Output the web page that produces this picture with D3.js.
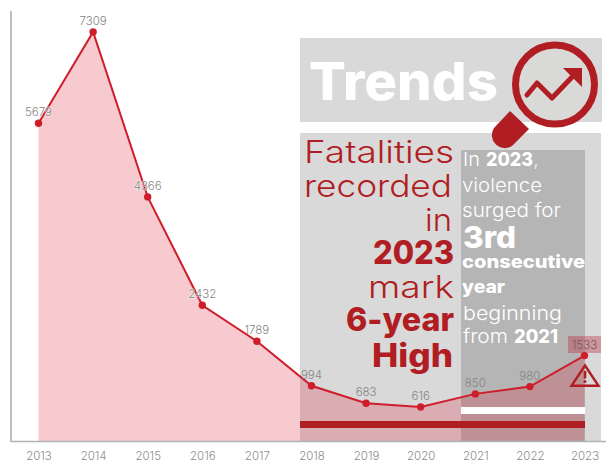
<!DOCTYPE html>
<html>
<head>
<meta charset="utf-8">
<script src="https://cdn.jsdelivr.net/npm/d3@7"></script>
<style>
  html, body { margin: 0; padding: 0; background: #fff; }
  svg { display: block; }
  text { font-family: Inter, "Open Sans", sans-serif; }
</style>
</head>
<body>
<svg id="chart" width="608" height="462"></svg>
<script>
const years = [2013, 2014, 2015, 2016, 2017, 2018, 2019, 2020, 2021, 2022, 2023];
const fatalities = [5679, 7309, 4366, 2432, 1789, 994, 683, 616, 850, 980, 1533];

const leftHeadline = [
  { text: "Fatalities", x0: 304, x1: 454, y: 163, size: 31, weight: 350 },
  { text: "recorded", x0: 304, x1: 452, y: 197, size: 31, weight: 350 },
  { text: "in", x0: 425, x1: 452, y: 231, size: 31, weight: 350 },
  { text: "2023", x0: 373, x1: 454, y: 264, size: 32, weight: 800 },
  { text: "mark", x0: 368, x1: 454, y: 298, size: 31, weight: 350 },
  { text: "6-year", x0: 346, x1: 454, y: 331, size: 32, weight: 800 },
  { text: "High", x0: 372, x1: 453, y: 367, size: 32, weight: 800 }
];
const rightNote = [
  { text: "violence", x0: 462, x1: 542, y: 192, size: 19, weight: 300 },
  { text: "surged for", x0: 462, x1: 561, y: 217, size: 19, weight: 300 },
  { text: "3rd", x0: 463, x1: 516, y: 248, size: 30, weight: 800 },
  { text: "consecutive", x0: 462, x1: 585, y: 268, size: 18, weight: 800 },
  { text: "year", x0: 462, x1: 505, y: 293, size: 18, weight: 800 },
  { text: "beginning", x0: 463, x1: 562, y: 320, size: 19, weight: 300 }
];
// Lines that mix a light lead-in with a bold figure
const mixedNote = [
  { y: 166, spans: [
    { text: "In", x0: 463, x1: 480, weight: 300 },
    { text: "2023", x0: 486, x1: 533, weight: 800 },
    { text: ",", x0: 534, x1: 538, weight: 300 }
  ] },
  { y: 343, spans: [
    { text: "from", x0: 463, x1: 508, weight: 300 },
    { text: "2021", x0: 514, x1: 558, weight: 800 }
  ] }
];

const red = "#b01e23";
const lineRed = "#cf1d2c";
const svg = d3.select("#chart");

const x = d3.scalePoint().domain(years).range([38.5, 584.5]);
const y = d3.scaleLinear().domain([0, 7309]).range([441.5, 32]);
const points = years.map((yr, i) => ({ yr, v: fatalities[i] }));

// Background panels
const panels = [
  { x: 300, y: 38, w: 302, h: 84, fill: "#d9d9d9" },
  { x: 300, y: 133, w: 301, h: 308, fill: "#d9d9d9" },
  { x: 461, y: 150, w: 124, h: 291, fill: "#b5b5b5" }
];
svg.selectAll("rect.panel").data(panels).join("rect")
  .attr("class", "panel")
  .attr("x", d => d.x).attr("y", d => d.y)
  .attr("width", d => d.w).attr("height", d => d.h)
  .attr("fill", d => d.fill);

// Filled area below the yearly totals
const area = d3.area().x(d => x(d.yr)).y0(y(0)).y1(d => y(d.v));
svg.append("path").datum(points).attr("d", area).attr("fill", "rgba(218,35,55,0.24)");

// Accent bars across the recent years
svg.append("rect").attr("x", 461).attr("y", 407).attr("width", 124).attr("height", 7).attr("fill", "#fff");
svg.append("rect").attr("x", 300).attr("y", 421).attr("width", 285).attr("height", 7).attr("fill", red);

// Axes
const xAxis = svg.append("g").attr("transform", `translate(0,${y(0)})`)
  .call(d3.axisBottom(x).tickSize(0).tickPadding(10).tickFormat(d3.format("d")));
xAxis.select(".domain").attr("d", "M11,0H606").attr("stroke", "#adb2b9").attr("stroke-width", 1.6);
xAxis.selectAll("text").attr("font-size", 11.5).attr("fill", "#8c8c8c").attr("font-family", "Inter, sans-serif").attr("font-weight", 300);

const yAxis = svg.append("g").attr("transform", "translate(11,0)")
  .call(d3.axisLeft(y).tickValues([]).tickSize(0));
yAxis.select(".domain").attr("d", "M0,11V442").attr("stroke", "#adb2b9").attr("stroke-width", 1.6);

// Trend line and markers
const line = d3.line().x(d => x(d.yr)).y(d => y(d.v));
svg.append("path").datum(points).attr("d", line).attr("fill", "none")
  .attr("stroke", lineRed).attr("stroke-width", 2);
svg.selectAll("circle.pt").data(points).join("circle")
  .attr("class", "pt").attr("cx", d => x(d.yr)).attr("cy", d => y(d.v)).attr("r", 3.7)
  .attr("fill", lineRed);

// Highlight behind the latest value
svg.append("rect").attr("x", 568).attr("y", 336).attr("width", 33).attr("height", 17)
  .attr("fill", "rgba(190,30,45,0.35)");

// Value labels; the ones that sit on the steep stretch of line get a soft halo
svg.selectAll("text.val").data(points).join("text")
  .attr("class", "val")
  .attr("x", d => x(d.yr)).attr("y", d => y(d.v) - 7)
  .attr("text-anchor", "middle").attr("font-size", 11.5).attr("font-weight", 300)
  .attr("fill", d => d.yr === 2023 ? "#6f5a5c" : "#858585")
  .attr("stroke", d => d.v > 2000 && d.v < 7000 ? "rgba(255,255,255,0.55)" : "none")
  .attr("stroke-width", 1.5).attr("paint-order", "stroke")
  .text(d => d.v);

// Headline block and side note, each line fitted to its measured width
function fitted(rows, fill) {
  svg.selectAll(null).data(rows).join("text")
    .attr("x", d => d.x0).attr("y", d => d.y)
    .attr("font-size", d => d.size).attr("font-weight", d => d.weight)
    .attr("textLength", d => d.x1 - d.x0).attr("lengthAdjust", "spacingAndGlyphs")
    .attr("fill", fill)
    .text(d => d.text);
}
fitted(leftHeadline, red);
fitted(rightNote, "#fff");
fitted([{ text: "Trends", x0: 309, x1: 498, y: 100, size: 52, weight: 800 }], "#fff");

const mixed = svg.selectAll(null).data(mixedNote).join("text")
  .attr("y", d => d.y).attr("font-size", 19).attr("fill", "#fff");
mixed.selectAll("tspan").data(d => d.spans).join("tspan")
  .attr("x", d => d.x0).attr("font-weight", d => d.weight)
  .attr("textLength", d => d.x1 - d.x0).attr("lengthAdjust", "spacingAndGlyphs")
  .text(d => d.text);

// Magnifying glass with a rising arrow
const lens = svg.append("g");
lens.append("path")
  .attr("d", "M510,111 L529,129 L512,146 A13,13 0 0 1 494,128 Z")
  .attr("fill", red);
lens.append("circle").attr("cx", 555).attr("cy", 84.5).attr("r", 39.5)
  .attr("fill", "#d9d9d7").attr("stroke", red).attr("stroke-width", 7);
lens.append("path")
  .attr("d", "M527,95 L537,83 L552,98 L574,75")
  .attr("fill", "none").attr("stroke", red).attr("stroke-width", 5)
  .attr("stroke-linecap", "round").attr("stroke-linejoin", "round");
lens.append("path").attr("d", "M563,68 H582 V87 Z").attr("fill", red);

// Warning sign beside the latest value
const warn = svg.append("g");
warn.append("path").attr("d", "M585,365.5 L598.5,385.8 H571.5 Z")
  .attr("fill", "none").attr("stroke", red).attr("stroke-width", 2.4).attr("stroke-linejoin", "miter");
warn.append("rect").attr("x", 583.7).attr("y", 371).attr("width", 2.6).attr("height", 7.5).attr("fill", red);
warn.append("circle").attr("cx", 585).attr("cy", 381.5).attr("r", 1.5).attr("fill", red);
</script>
</body>
</html>
